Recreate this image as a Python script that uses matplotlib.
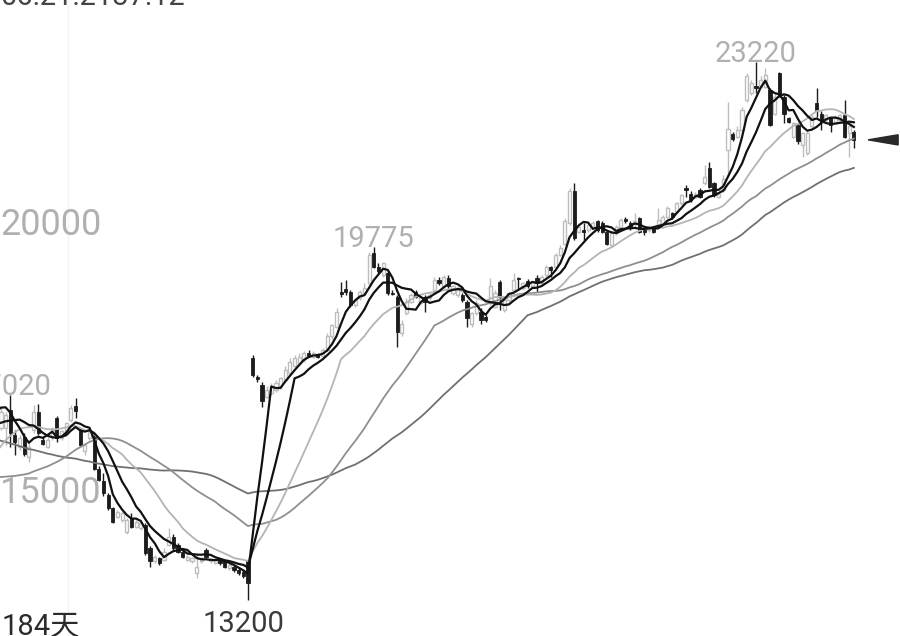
import numpy as np
import pandas as pd
import matplotlib
matplotlib.use("Agg")
import matplotlib.pyplot as plt
from matplotlib.patches import Polygon

# closes before the visible window (needed for the long moving averages)
hist_close = [
    18040, 17920, 17860, 17670, 17800, 17610, 17730, 17550, 17670, 17490,
    17610, 17420, 17550, 17360, 17490, 17300, 17420, 17240, 17360, 17180,
    17050, 16370, 16060, 15870, 15620, 15440, 15310, 15190, 15070, 14940,
    14820, 14690, 14570, 14440, 14380, 14320, 14200, 14130, 14200, 14320,
    14380, 14510, 14690, 14820, 14940, 15440, 15930, 16310, 16550, 16620,
    16550, 16370, 16180, 16060, 16120, 16370, 16620, 16800, 16930, 16860,
]

opens = [
    16400, 16400, 16740, 16280, 16060, 16240, 15870, 16370, 16710, 16190,
    16060, 16240, 16590, 16210, 16310, 16550, 16820, 16370, 15970, 16210,
    16240, 15650, 15410, 15160, 14910, 14750, 14690, 14470, 14720, 14570,
    14540, 14600, 14170, 13920, 13980, 13950, 14230, 14380, 14230, 14100,
    13950, 13920, 13700, 13920, 14130, 13920, 13900, 13950, 13920, 13790,
    13820, 13760, 13730, 13920, 17700, 17360, 17210, 16990, 17050, 17110,
    17180, 17300, 17420, 17550, 17610, 17670, 17800, 17730, 17780, 17750,
    17860, 18110, 18290, 18940, 18990, 18940, 18700, 18820, 18910, 19100,
    19670, 19410, 19250, 19290, 18925, 18850, 18170, 18540, 18760, 18940,
    18730, 18850, 18820, 18970, 19160, 19040, 19190, 18910, 18880, 18880,
    18760, 18350, 18540, 18570, 18480, 18730, 18660, 19130, 18600, 18790,
    18980, 19190, 19010, 19150, 19040, 19190, 19100, 19250, 19400, 19410,
    19630, 19840, 20220, 20820, 20060, 20100, 20090, 20150, 20250, 20220,
    20060, 19810, 20030, 20150, 20290, 20220, 20220, 20310, 20090, 20090,
    20120, 20150, 20220, 20340, 20400, 20430, 20590, 20870, 20770, 20710,
    20840, 20960, 21240, 20960, 20710, 20840, 21580, 21870, 21830, 21950,
    22510, 22640, 22770, 22760, 22760, 22700, 22260, 23010, 22570, 22170,
    21830, 22050, 21670, 21520, 22020, 22450, 22260, 22140, 22170, 22110,
    22140, 22230, 21890, 21920,
]

closes = [
    16710, 16650, 16310, 16150, 16210, 15920, 16060, 16710, 16310, 16110,
    16180, 16370, 16210, 16340, 16490, 16770, 16730, 16090, 16090, 16370,
    15650, 15440, 15190, 14910, 14660, 14850, 14820, 14690, 14570, 14660,
    14630, 14070, 13920, 14010, 13900, 14100, 14380, 14170, 14100, 14010,
    14010, 13980, 13820, 13980, 14010, 13960, 13950, 13890, 13820, 13850,
    13760, 13700, 13640, 13510, 17390, 17310, 16900, 17110, 17180, 17240,
    17330, 17490, 17640, 17700, 17730, 17800, 17750, 17800, 17720, 17860,
    18110, 18320, 18570, 18900, 18940, 18700, 18790, 18940, 19020, 19630,
    19410, 19320, 19470, 18910, 18900, 18200, 18350, 18760, 18880, 18850,
    18850, 18760, 18880, 19160, 19100, 19220, 19040, 19040, 19010, 18790,
    18450, 18540, 18730, 18420, 18420, 19040, 18910, 18850, 18790, 18910,
    19160, 19170, 19100, 19050, 19130, 19100, 19220, 19410, 19350, 19630,
    19750, 20250, 20810, 19940, 20150, 20060, 20190, 20220, 20090, 20060,
    19840, 20030, 20150, 20280, 20250, 20120, 20265, 20060, 20060, 20150,
    20060, 20280, 20340, 20500, 20330, 20590, 20740, 20840, 20650, 20770,
    20710, 21080, 20900, 20740, 20770, 21050, 21980, 21780, 21950, 22330,
    22950, 22820, 22730, 22880, 22980, 22050, 22570, 22610, 22260, 22110,
    22080, 21740, 21890, 21890, 22200, 22330, 22110, 22230, 22050, 22200,
    22230, 21830, 22020, 21770,
]

highs = [
    16770, 16710, 17020, 16370, 16280, 16310, 16120, 16830, 16860, 16240,
    16240, 16430, 16620, 16370, 16520, 16830, 16960, 16400, 16120, 16400,
    16310, 15690, 15560, 15190, 14940, 14880, 14850, 14720, 14820, 14690,
    14660, 14630, 14200, 14040, 14010, 14170, 14540, 14440, 14260, 14130,
    14040, 14010, 14040, 14010, 14170, 13980, 13980, 13980, 13950, 13890,
    13850, 13790, 13760, 13950, 17760, 17390, 17270, 17180, 17240, 17300,
    17360, 17550, 17700, 17760, 17800, 17830, 17860, 17830, 17810, 17890,
    18170, 18350, 18630, 19130, 19160, 18970, 18820, 18970, 19100, 19690,
    19775, 19470, 19500, 19320, 18975, 18880, 18420, 18820, 18910, 18980,
    18880, 18880, 18910, 19220, 19220, 19250, 19250, 19070, 19040, 18910,
    18790, 18570, 18790, 18630, 18510, 19190, 18970, 19160, 18820, 18940,
    19290, 19220, 19130, 19170, 19160, 19250, 19250, 19440, 19420, 19660,
    19810, 20310, 20870, 20960, 20190, 20220, 20220, 20250, 20280, 20250,
    20090, 20060, 20190, 20310, 20330, 20250, 20400, 20340, 20120, 20190,
    20150, 20500, 20370, 20530, 20430, 20620, 20770, 20930, 20810, 20800,
    20870, 21300, 21360, 20990, 20800, 21110, 22480, 21920, 22020, 22390,
    23010, 22880, 23220, 22950, 23100, 22730, 22640, 23040, 22610, 22200,
    22110, 22080, 21920, 21950, 22230, 22730, 22300, 22260, 22200, 22230,
    22260, 22510, 22050, 21950,
]

lows = [
    16370, 16090, 16060, 15900, 16000, 15880, 15780, 16310, 16280, 16090,
    16030, 16180, 16150, 16180, 16280, 16520, 16590, 16070, 15900, 16180,
    15620, 15410, 15130, 14880, 14640, 14720, 14660, 14440, 14540, 14540,
    14510, 14040, 13820, 13890, 13850, 13920, 14200, 14130, 14070, 13980,
    13920, 13890, 13610, 13890, 13980, 13900, 13870, 13850, 13790, 13760,
    13730, 13670, 13610, 13200, 17360, 17270, 16800, 16960, 17020, 17080,
    17140, 17270, 17390, 17520, 17580, 17640, 17720, 17700, 17700, 17720,
    17830, 18070, 18260, 18850, 18880, 18660, 18660, 18790, 18880, 19070,
    19380, 19290, 19220, 18880, 18880, 17920, 18110, 18510, 18730, 18820,
    18700, 18570, 18790, 18940, 19070, 19010, 19010, 18880, 18850, 18760,
    18290, 18290, 18510, 18350, 18380, 18700, 18630, 18600, 18570, 18760,
    18940, 18980, 18980, 19020, 19010, 18940, 19070, 19220, 19220, 19380,
    19600, 19810, 20190, 19910, 20030, 19870, 20060, 20120, 20060, 20030,
    19810, 19780, 20000, 20120, 20220, 20090, 20150, 20030, 20000, 20060,
    20030, 20120, 20190, 20310, 20290, 20400, 20560, 20710, 20620, 20680,
    20680, 20930, 20870, 20710, 20680, 20800, 21080, 21740, 21800, 21920,
    22480, 22610, 22640, 22730, 22730, 22020, 22230, 22570, 22080, 22080,
    21800, 21700, 21460, 21490, 21980, 22200, 21950, 22110, 21920, 22080,
    22110, 21800, 21460, 21610,
]

ma_periods = [60, 40, 20, 10, 5]
ma_colors = ["#707070", "#8f8f8f", "#b4b4b4", "#111111", "#111111"]
axis_levels = [20000, 15000]
days_label = "184天"
clock_text = "06:21:2137:12"

o = np.array(opens, float)
c = np.array(closes, float)
h = np.array(highs, float)
l = np.array(lows, float)
x = np.arange(len(c))
up = c >= o

fig = plt.figure(figsize=(9, 6.36), dpi=100)
ax = fig.add_axes([0, 0, 1, 1])
ax.set_axis_off()
ax.set_xlim(-0.2, 192.9)
ax.set_ylim(12532, 24374)

ax.axvline(14.4, color="#f4f4f4", lw=1, zorder=0)

up_col = "#bdbdbd"
dn_col = "#1c1c1c"
w = 0.68
ax.vlines(x[up], l[up], h[up], color=up_col, lw=1, zorder=2)
ax.vlines(x[~up], l[~up], h[~up], color=dn_col, lw=1, zorder=2)
ax.bar(x[up], np.maximum(c - o, 15)[up], bottom=o[up], width=w,
       facecolor="white", edgecolor=up_col, lw=1, zorder=3)
ax.bar(x[~up], np.maximum(o - c, 15)[~up], bottom=c[~up], width=w,
       facecolor=dn_col, edgecolor=dn_col, lw=0.6, zorder=3)

# moving averages over history + visible data
s = pd.Series(hist_close + closes, dtype=float)
idx = np.arange(-len(hist_close), len(closes))
for n, col in zip(ma_periods, ma_colors):
    lw = 1.6 if n <= 10 else 1.3
    ax.plot(idx, s.rolling(n).mean(), color=col, lw=lw, zorder=4)

for lv in axis_levels:
    ax.text(-0.2, lv, str(lv), ha="left", va="baseline", fontsize=26,
            color="#b0b0b0", family="Roboto", zorder=5)

# high / low markers
for i in [2, 80, 162]:
    ax.text(i, h[i], str(int(h[i])), ha="center", va="baseline", fontsize=21,
            color="#b0b0b0", family="Roboto", zorder=5)
lo = int(np.argmin(l))
ax.annotate(str(int(l[lo])), (lo - 1, l[lo]), xytext=(0, -7),
            textcoords="offset points", ha="center", va="top", fontsize=21,
            color="#3a3a3a", family="Roboto", zorder=5)

# last price pointer
last = c[-1]
ax.add_patch(Polygon([(186.05, last), (192.5, last + 95), (192.5, last - 95)],
                     closed=True, color="#2a2a2a", zorder=5))

fig.text(2 / 900, 1 / 636, days_label, ha="left", va="baseline", fontsize=21,
         color="#2a2a2a", family=["Roboto", "Noto Sans CJK SC"])
fig.text(0, 1 - 5 / 636, clock_text, ha="left", va="baseline", fontsize=21,
         color="#444444", family="Roboto")

fig.savefig("out.png", dpi=100, facecolor="white")
